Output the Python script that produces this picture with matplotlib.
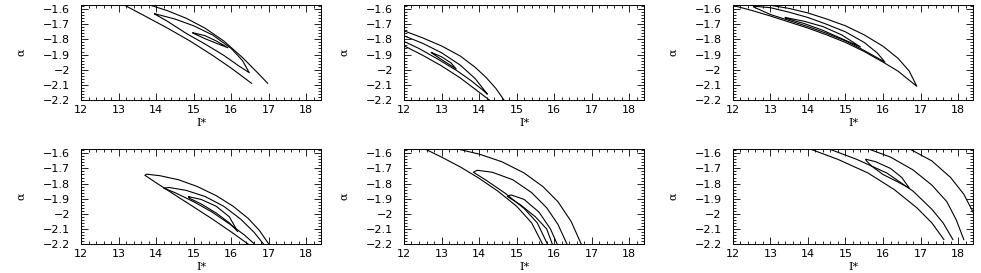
import numpy as np
import matplotlib
matplotlib.use('Agg')
import matplotlib.pyplot as plt
from matplotlib.ticker import MultipleLocator, FuncFormatter

# contour lines, (I*, alpha) vertices

# panel 1
p1_outer_a = [(13.13, -1.57), (13.7, -1.645), (14.3, -1.725), (14.9, -1.81), (15.5, -1.905),
              (16.0, -1.99), (16.54, -2.09)]
p1_outer_b = [(13.80, -1.57), (14.3, -1.61), (14.8, -1.66), (15.3, -1.725), (15.8, -1.81),
              (16.3, -1.92), (16.7, -2.02), (16.97, -2.09)]
p1_mid = [(13.96, -1.63), (14.5, -1.665), (15.0, -1.71), (15.5, -1.77), (16.0, -1.86), (16.3, -1.94),
          (16.48, -2.02), (16.2, -1.975), (15.8, -1.905), (15.3, -1.83), (14.8, -1.76), (14.3, -1.68),
          (13.96, -1.632)]
p1_inner = [(14.98, -1.756), (15.3, -1.775), (15.6, -1.81), (15.91, -1.855), (15.6, -1.825),
            (15.3, -1.795), (14.98, -1.758)]

# panel 2
p2_outer_a = [(12.0, -1.743), (12.5, -1.79), (13.0, -1.843), (13.5, -1.91), (13.9, -1.985),
              (14.2, -2.055), (14.45, -2.125), (14.66, -2.2)]
p2_mid = [(12.0, -1.776), (12.5, -1.826), (13.0, -1.888), (13.5, -1.97), (13.9, -2.06), (14.22, -2.162),
          (14.1, -2.135), (13.8, -2.075), (13.4, -2.005), (12.9, -1.93), (12.4, -1.86), (12.0, -1.813)]
p2_outer_b = [(12.0, -1.842), (12.5, -1.905), (13.0, -1.975), (13.5, -2.055), (13.9, -2.13), (14.27, -2.2)]
p2_inner = [(12.73, -1.886), (13.0, -1.915), (13.25, -1.955), (13.39, -1.995), (13.2, -1.965),
            (12.95, -1.925), (12.73, -1.888)]

# panel 3
p3_outer = [(12.9, -1.57), (13.5, -1.595), (14.0, -1.625), (14.5, -1.665), (15.0, -1.71), (15.5, -1.77),
            (16.0, -1.845), (16.4, -1.925), (16.7, -2.01), (16.9, -2.11), (16.75, -2.08), (16.4, -2.01),
            (16.0, -1.95), (15.5, -1.88), (15.0, -1.82), (14.5, -1.77), (14.0, -1.725), (13.5, -1.685),
            (13.0, -1.645), (12.5, -1.608), (12.0, -1.575)]
p3_mid = [(12.55, -1.58), (13.0, -1.59), (13.5, -1.62), (14.0, -1.655), (14.5, -1.7), (15.0, -1.75),
          (15.5, -1.82), (15.85, -1.89), (16.05, -1.95), (15.8, -1.915), (15.4, -1.86), (15.0, -1.81),
          (14.5, -1.76), (14.0, -1.715), (13.5, -1.675), (13.0, -1.635), (12.55, -1.585), (12.55, -1.58)]
p3_inner = [(13.4, -1.655), (13.9, -1.68), (14.4, -1.715), (14.9, -1.77), (15.4, -1.85), (14.9, -1.795),
            (14.4, -1.74), (13.9, -1.695), (13.4, -1.66), (13.4, -1.655)]

# panel 4
p4_outer = [(17.0, -2.2), (16.75, -2.11), (16.45, -2.03), (16.05, -1.95), (15.6, -1.88), (15.1, -1.82),
            (14.6, -1.775), (14.1, -1.748), (13.75, -1.738), (13.7, -1.745), (14.0, -1.795), (14.5, -1.875),
            (15.0, -1.955), (15.5, -2.035), (16.0, -2.12), (16.45, -2.2)]
p4_mid = [(16.86, -2.2), (16.6, -2.12), (16.25, -2.035), (15.8, -1.95), (15.3, -1.885), (14.8, -1.845),
          (14.35, -1.826), (14.2, -1.83), (14.5, -1.86), (15.0, -1.92), (15.5, -1.99), (16.0, -2.075),
          (16.35, -2.14), (16.62, -2.2)]
p4_inner = [(14.87, -1.887), (15.2, -1.905), (15.6, -1.95), (15.95, -2.02), (16.17, -2.117), (15.95, -2.06),
            (15.6, -1.995), (15.2, -1.935), (14.87, -1.895), (14.87, -1.887)]

# panel 5
p5_outer_a = [(12.55, -1.57), (13.0, -1.625), (13.5, -1.69), (14.0, -1.765), (14.5, -1.85), (15.0, -1.95),
              (15.4, -2.06), (15.69, -2.2)]
p5_outer_b = [(13.4, -1.57), (14.0, -1.605), (14.6, -1.655), (15.2, -1.73), (15.7, -1.82), (16.1, -1.92),
              (16.45, -2.05), (16.72, -2.2)]
p5_mid = [(16.34, -2.2), (16.1, -2.07), (15.8, -1.96), (15.4, -1.86), (14.9, -1.775), (14.35, -1.725),
          (13.95, -1.712), (13.85, -1.725), (14.2, -1.78), (14.7, -1.865), (15.2, -1.965), (15.55, -2.06),
          (15.82, -2.2)]
p5_inner = [(16.08, -2.2), (15.9, -2.1), (15.6, -1.99), (15.2, -1.905), (14.85, -1.875), (14.75, -1.885),
            (15.1, -1.94), (15.5, -2.02), (15.8, -2.1), (15.95, -2.2)]

# panel 6
p6_a = [(14.04, -1.57), (14.8, -1.64), (15.6, -1.73), (16.3, -1.84), (16.9, -1.96), (17.3, -2.06), (17.62, -2.17)]
p6_b = [(14.55, -1.57), (15.3, -1.64), (16.1, -1.73), (16.8, -1.85), (17.3, -1.97), (17.6, -2.06), (17.86, -2.17)]
p6_loop = [(15.55, -1.64), (15.8, -1.655), (16.2, -1.7), (16.5, -1.76), (16.7, -1.83), (16.4, -1.79),
           (16.0, -1.74), (15.7, -1.685), (15.55, -1.648), (15.55, -1.64)]
p6_c = [(15.6, -1.57), (16.2, -1.625), (16.8, -1.71), (17.3, -1.81), (17.7, -1.92), (17.95, -2.04), (18.15, -2.17)]
p6_d = [(16.7, -1.57), (17.3, -1.65), (17.8, -1.76), (18.15, -1.87), (18.4, -1.99)]

panels = [
    [p1_outer_a, p1_outer_b, p1_mid, p1_inner],
    [p2_outer_a, p2_mid, p2_outer_b, p2_inner],
    [p3_outer, p3_mid, p3_inner],
    [p4_outer, p4_mid, p4_inner],
    [p5_outer_a, p5_outer_b, p5_mid, p5_inner],
    [p6_a, p6_b, p6_loop, p6_c, p6_d],
]

plt.rcParams['font.family'] = 'DejaVu Sans'
fig = plt.figure(figsize=(9.81, 2.73), dpi=100)
lefts = [0.0826, 0.4118, 0.747]
bottoms = [0.634, 0.106]
w, h = 0.245, 0.349

for k, lines in enumerate(panels):
    ax = fig.add_axes([lefts[k % 3], bottoms[k // 3], w, h])
    for line in lines:
        xs, ys = zip(*line)
        ax.plot(xs, ys, color='black', lw=0.8)
    ax.set_xlim(12, 18.4)
    ax.set_ylim(-2.2, -1.57)
    ax.xaxis.set_major_locator(MultipleLocator(1))
    ax.xaxis.set_minor_locator(MultipleLocator(0.2))
    ax.yaxis.set_major_locator(MultipleLocator(0.1))
    ax.yaxis.set_minor_locator(MultipleLocator(0.02))
    ax.yaxis.set_major_formatter(FuncFormatter(lambda v, p: ('%g' % round(v, 2)).replace('-', '\u2212')))
    ax.tick_params(which='both', direction='in', top=True, right=True, labelsize=8, width=0.6)
    ax.tick_params(which='major', length=5)
    ax.tick_params(which='minor', length=2.5)
    ax.tick_params(axis='y', which='major', pad=8)
    for s in ax.spines.values():
        s.set_linewidth(0.7)
    ax.set_xlabel('I*', fontsize=8, labelpad=2, family='DejaVu Serif')
    ax.set_ylabel('\u03b1', fontsize=8, labelpad=12, family='DejaVu Serif')

fig.savefig('out.png', dpi=100)
